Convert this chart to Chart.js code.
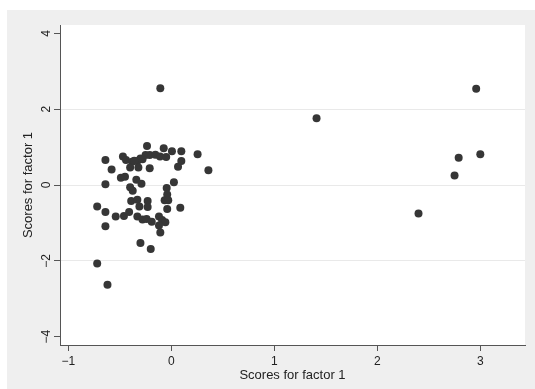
<!DOCTYPE html>
<html>
<head>
<meta charset="utf-8">
<script src="https://cdn.jsdelivr.net/npm/chart.js@4/dist/chart.umd.min.js"></script>
<style>
  html, body { margin: 0; padding: 0; background: #ffffff; }
  #wrap { width: 535px; height: 389px; position: relative; }
</style>
</head>
<body>
<div id="wrap"><canvas id="c" width="535" height="389"></canvas></div>
<script>
// Scores for factor 1 (x) and scores for factor 1 (y)
const xScores = [
  -0.107, -0.236, -0.074, 0.006, 0.097, 0.255, 0.36, -0.64, -0.58, -0.47,
  -0.44, -0.38, -0.33, -0.28, -0.25, -0.21, -0.155, -0.11, -0.05, -0.40,
  -0.32, -0.21, 0.097, 0.065, -0.49, -0.45, -0.34, -0.29, -0.64, -0.40,
  -0.375, 0.025, -0.045, -0.04, -0.065, -0.03, -0.04, 0.087, -0.39, -0.33,
  -0.23, -0.31, -0.23, -0.72, -0.64, -0.54, -0.46, -0.41, -0.33, -0.28,
  -0.24, -0.19, -0.12, -0.09, -0.058, -0.12, -0.107, -0.64, -0.30, -0.20,
  -0.72, -0.62, -0.30, -0.36,
  1.41, 2.96, 2.79, 3.00, 2.75, 2.40
];
const yScores = [
  2.55, 1.03, 0.97, 0.89, 0.89, 0.81, 0.39, 0.66, 0.41, 0.75,
  0.66, 0.61, 0.63, 0.68, 0.79, 0.79, 0.80, 0.75, 0.74, 0.46,
  0.46, 0.44, 0.63, 0.48, 0.19, 0.22, 0.14, 0.03, 0.02, -0.06,
  -0.15, 0.07, -0.08, -0.25, -0.40, -0.40, -0.63, -0.60, -0.42, -0.39,
  -0.42, -0.57, -0.58, -0.57, -0.71, -0.83, -0.82, -0.71, -0.83, -0.91,
  -0.90, -0.97, -0.83, -0.92, -0.98, -1.07, -1.25, -1.09, -1.53, -1.69,
  -2.07, -2.63, 0.70, 0.64,
  1.76, 2.54, 0.72, 0.81, 0.25, -0.75
];
const xTickValues = [-1, 0, 1, 2, 3];
const yTickValues = [-4, -2, 0, 2, 4];
const xTitle = 'Scores for factor 1';
const yTitle = 'Scores for factor 1';

const points = xScores.map((x, i) => ({ x: x, y: yScores[i] }));
const fmt = v => (v < 0 ? '\u2212' + Math.abs(v) : String(v));
const FONT = "'Liberation Sans', Arial, sans-serif";

const bgPlugin = {
  id: 'bg',
  beforeDraw(chart) {
    const { ctx, chartArea: a } = chart;
    ctx.save();
    ctx.fillStyle = '#ffffff';
    ctx.fillRect(0, 0, chart.width, chart.height);
    ctx.fillStyle = '#efefef';
    ctx.fillRect(7, 10, chart.width - 7, chart.height - 10);
    ctx.fillStyle = '#ffffff';
    ctx.fillRect(a.left, a.top, a.right - a.left, a.bottom - a.top);
    ctx.restore();
  }
};

new Chart(document.getElementById('c'), {
  type: 'scatter',
  data: {
    datasets: [{
      data: points,
      backgroundColor: '#363636',
      borderColor: '#363636',
      borderWidth: 0,
      pointRadius: 4,
      pointHoverRadius: 4
    }]
  },
  options: {
    responsive: false,
    animation: false,
    layout: { padding: { left: 0, top: 25, right: 10, bottom: 0 } },
    plugins: { legend: { display: false }, tooltip: { enabled: false } },
    scales: {
      x: {
        type: 'linear',
        min: -1.081, max: 3.434,
        afterBuildTicks: s => { s.ticks = xTickValues.map(v => ({ value: v })); },
        afterFit: s => { s.height = 44; },
        grid: { drawOnChartArea: false, tickLength: 6, tickColor: '#555555', tickWidth: 1 },
        border: { display: true, color: '#555555', width: 1 },
        ticks: { callback: fmt, color: '#222222', padding: 3, maxRotation: 0, autoSkip: false,
                 font: { family: FONT, size: 12 } },
        title: { display: true, text: xTitle, color: '#222222',
                 font: { family: FONT, size: 13 }, padding: { top: 0, bottom: 6 } }
      },
      y: {
        type: 'linear',
        min: -4.22, max: 4.22,
        afterBuildTicks: s => { s.ticks = yTickValues.map(v => ({ value: v })); },
        afterFit: s => { s.width = 60; },
        grid: {
          color: c => (c.tick && Math.abs(c.tick.value) < 4 ? '#e9e9e9' : 'rgba(0,0,0,0)'),
          lineWidth: 1, tickLength: 6, tickColor: '#555555', tickWidth: 1
        },
        border: { display: true, color: '#555555', width: 1 },
        ticks: { callback: fmt, color: '#222222', padding: 0, minRotation: 90, maxRotation: 90,
                 crossAlign: 'center', autoSkip: false,
                 font: { family: FONT, size: 12 } },
        title: { display: true, text: yTitle, color: '#222222',
                 font: { family: FONT, size: 13 }, padding: { top: 21, bottom: 0 } }
      }
    }
  },
  plugins: [bgPlugin]
});
</script>
</body>
</html>
